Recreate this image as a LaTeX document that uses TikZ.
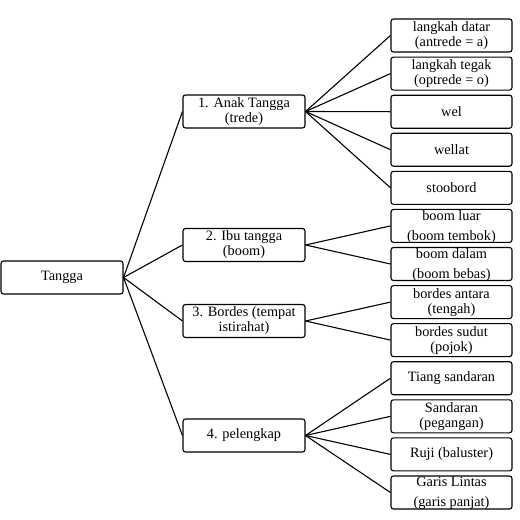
\documentclass[tikz,border=0pt]{standalone}
\usepackage{fontspec}
\setmainfont{Liberation Serif}
\begin{document}
\begin{tikzpicture}[x=1pt,y=-1pt,
  box/.style={draw=black, line width=1.1pt, rounded corners=2.5pt, fill=white,
    minimum width=#1, minimum height=33pt, inner sep=1pt, align=center,
    font=\fontsize{14.3}{15}\selectfont},
  box/.default=121pt,
  txt/.style={inner sep=0pt, align=center, font=\fontsize{14.3}{15}\selectfont},
  link/.style={draw=black, line width=1.1pt}]
\useasboundingbox (0,0) rectangle (520,520);
% root
\node[box=122pt] (root) at (62,277.5) {Tangga};
% level 1
\node[box=122pt] (a) at (244,111.5) {1. Anak Tangga\\(trede)};
\node[box=122pt] (b) at (244,245) {2. Ibu tangga\\(boom)};
\node[box=122pt] (c) at (244,321) {3. Bordes (tempat\\istirahat)};
\node[box=122pt] (d) at (244,435.5) {4. pelengkap};
% level 2
\node[box] (a1) at (451.5,35.5) {langkah datar\\(antrede = a)};
\node[box] (a2) at (451.5,73.6) {langkah tegak\\(optrede = o)};
\node[box] (a3) at (451.5,111.7) {wel};
\node[box] (a4) at (451.5,149.7) {wellat};
\node[box] (a5) at (451.5,187.8) {stoobord};
\node[box] (b1) at (451.5,225.9) {};
\node[txt] (b1t) at ([yshift=-0.7pt]b1.center) {boom luar\\[5pt](boom tembok)};
\node[box] (b2) at (451.5,264.0) {};
\node[txt] (b2t) at ([yshift=-0.7pt]b2.center) {boom dalam\\[5pt](boom bebas)};
\node[box] (c1) at (451.5,302.1) {bordes antara\\(tengah)};
\node[box] (c2) at (451.5,340.1) {bordes sudut\\(pojok)};
\node[box] (d1) at (451.5,378.2) {Tiang sandaran};
\node[box] (d2) at (451.5,416.3) {Sandaran\\(pegangan)};
\node[box] (d3) at (451.5,454.4) {Ruji (baluster)};
\node[box] (d4) at (451.5,492.5) {};
\node[txt] (d4t) at ([yshift=-0.7pt]d4.center) {Garis Lintas\\[5pt](garis panjat)};
% connectors
\foreach \n in {a,b,c,d} \draw[link] (root.east) -- (\n.west);
\foreach \n in {a1,a2,a3,a4,a5} \draw[link] (a.east) -- (\n.west);
\foreach \n in {b1,b2} \draw[link] (b.east) -- (\n.west);
\foreach \n in {c1,c2} \draw[link] (c.east) -- (\n.west);
\foreach \n in {d1,d2,d3,d4} \draw[link] (d.east) -- (\n.west);
\end{tikzpicture}
\end{document}
